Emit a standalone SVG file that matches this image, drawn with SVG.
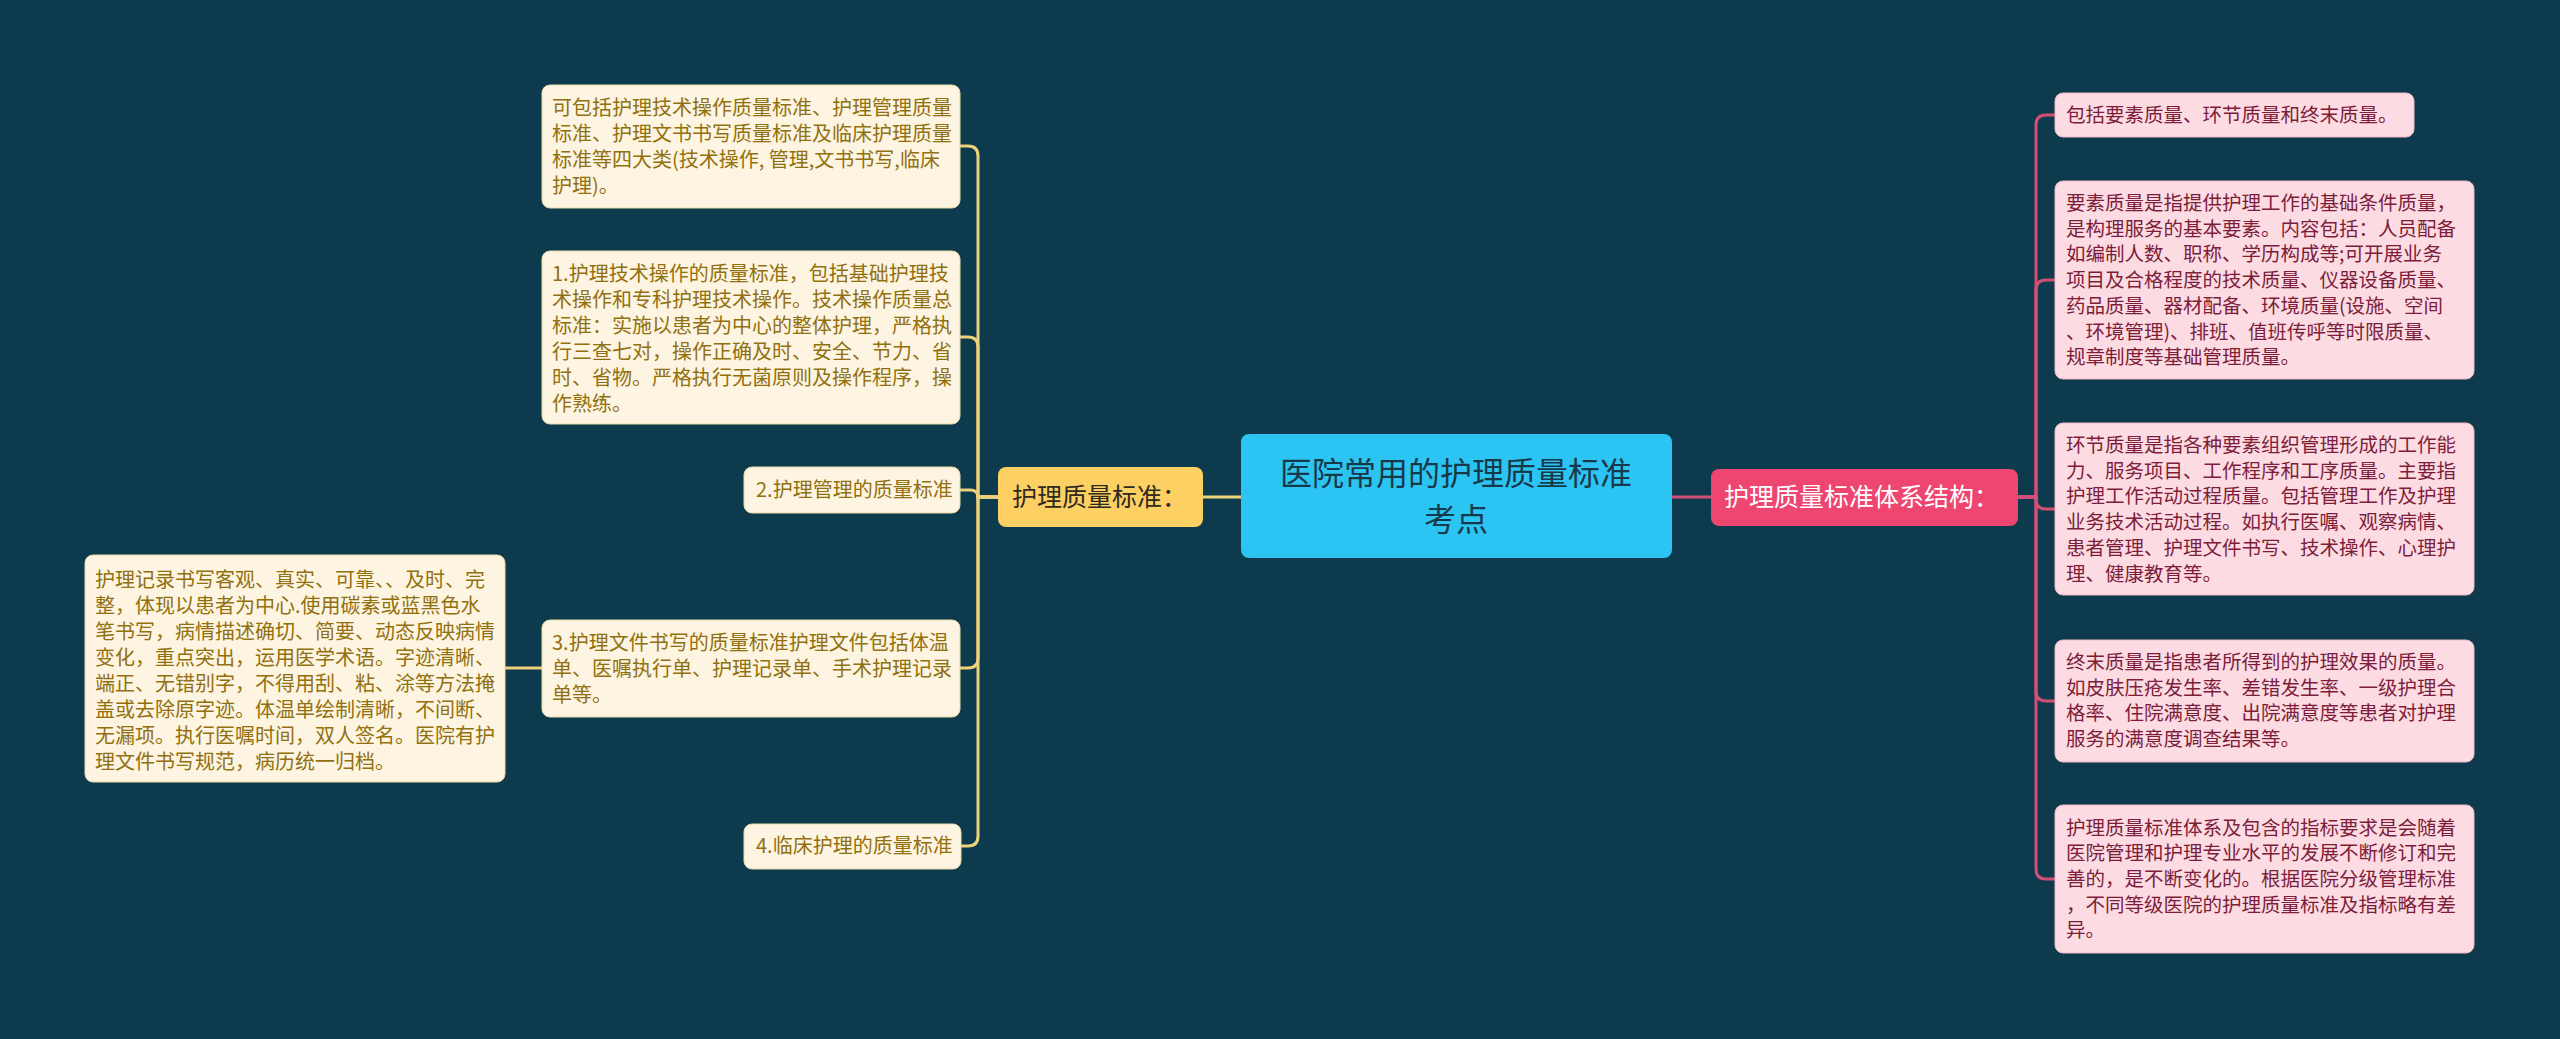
<svg xmlns="http://www.w3.org/2000/svg" width="2560" height="1039" viewBox="0 0 2560 1039">
<style>
text{font-family:"Noto Sans CJK SC","Noto Sans",sans-serif}
.lf{fill:#fdf5e1;stroke:#e9d9a8;stroke-width:1}
.lt{font-size:20px;fill:#92700f}
.rf{fill:#fcdbe3;stroke:#f0b7c5;stroke-width:1}
.rt{font-size:19.5px;fill:#7d1d3a}
.yl{fill:none;stroke:#ecd27a;stroke-width:3}
.pl{fill:none;stroke:#d34f78;stroke-width:3}
</style>
<rect width="2560" height="1039" fill="#0e3a4d"/>
<g id="connectors">
<path class="yl" d="M1241 497 H1203"/>
<path class="pl" d="M1672 497 H1711"/>
<path class="yl" d="M998 497 H978 V156 Q978 146 968 146 H960"/>
<path class="yl" d="M998 497 H978 V347 Q978 337 968 337 H960"/>
<path class="yl" d="M998 497 H978 Q978 490 970 490 H960"/>
<path class="yl" d="M998 497 H978 V658 Q978 668 968 668 H960"/>
<path class="yl" d="M998 497 H978 V836 Q978 846 968 846 H961"/>
<path class="yl" d="M542 668 H505"/>
<path class="pl" d="M2018 497 H2036 V125 Q2036 115 2046 115 H2055"/>
<path class="pl" d="M2018 497 H2036 V290 Q2036 280 2046 280 H2055"/>
<path class="pl" d="M2018 497 H2036 V499 Q2036 509 2046 509 H2055"/>
<path class="pl" d="M2018 497 H2036 V691 Q2036 701 2046 701 H2055"/>
<path class="pl" d="M2018 497 H2036 V869 Q2036 879 2046 879 H2055"/>
</g>
<g id="center">
<rect x="1241" y="434" width="431" height="124" rx="8" fill="#2cc4f3"/>
<text x="1456" y="485" font-size="32" fill="#173a4a" text-anchor="middle">医院常用的护理质量标准</text>
<text x="1456" y="531" font-size="32" fill="#173a4a" text-anchor="middle">考点</text>
</g>
<g id="left-main">
<rect x="998" y="467" width="205" height="60" rx="8" fill="#fdd064"/>
<text x="1012" y="506" font-size="25" fill="#2e2a1e">护理质量标准：</text>
</g>
<g id="right-main">
<rect x="1711" y="469" width="307" height="57" rx="8" fill="#ee4571"/>
<text x="1724" y="506" font-size="25" fill="#ffffff">护理质量标准体系结构：</text>
</g>
<g id="nodeA">
<rect class="lf" x="542" y="85" width="418" height="123" rx="8"/>
<text class="lt" x="552" y="115">可包括护理技术操作质量标准、护理管理质量</text>
<text class="lt" x="552" y="141">标准、护理文书书写质量标准及临床护理质量</text>
<text class="lt" x="552" y="167">标准等四大类(技术操作, 管理,文书书写,临床</text>
<text class="lt" x="552" y="193">护理)。</text>
</g>
<g id="nodeB">
<rect class="lf" x="542" y="251" width="418" height="173" rx="8"/>
<text class="lt" x="552" y="281">1.护理技术操作的质量标准，包括基础护理技</text>
<text class="lt" x="552" y="307">术操作和专科护理技术操作。技术操作质量总</text>
<text class="lt" x="552" y="333">标准：实施以患者为中心的整体护理，严格执</text>
<text class="lt" x="552" y="359">行三查七对，操作正确及时、安全、节力、省</text>
<text class="lt" x="552" y="385">时、省物。严格执行无菌原则及操作程序，操</text>
<text class="lt" x="552" y="411">作熟练。</text>
</g>
<g id="nodeC">
<rect class="lf" x="744" y="467" width="216" height="46" rx="8"/>
<text class="lt" x="756" y="497">2.护理管理的质量标准</text>
</g>
<g id="nodeD">
<rect class="lf" x="542" y="620" width="418" height="97" rx="8"/>
<text class="lt" x="552" y="650">3.护理文件书写的质量标准护理文件包括体温</text>
<text class="lt" x="552" y="676">单、医嘱执行单、护理记录单、手术护理记录</text>
<text class="lt" x="552" y="702">单等。</text>
</g>
<g id="nodeE">
<rect class="lf" x="85" y="555" width="420" height="227" rx="8"/>
<text class="lt" x="95" y="587">护理记录书写客观、真实、可靠、、及时、完</text>
<text class="lt" x="95" y="613">整，体现以患者为中心.使用碳素或蓝黑色水</text>
<text class="lt" x="95" y="639">笔书写，病情描述确切、简要、动态反映病情</text>
<text class="lt" x="95" y="665">变化，重点突出，运用医学术语。字迹清晰、</text>
<text class="lt" x="95" y="691">端正、无错别字，不得用刮、粘、涂等方法掩</text>
<text class="lt" x="95" y="717">盖或去除原字迹。体温单绘制清晰，不间断、</text>
<text class="lt" x="95" y="743">无漏项。执行医嘱时间，双人签名。医院有护</text>
<text class="lt" x="95" y="769">理文件书写规范，病历统一归档。</text>
</g>
<g id="nodeF">
<rect class="lf" x="744" y="824" width="217" height="45" rx="8"/>
<text class="lt" x="756" y="853">4.临床护理的质量标准</text>
</g>
<g id="nodeR1">
<rect class="rf" x="2055" y="93" width="359" height="44" rx="8"/>
<text class="rt" x="2066" y="122">包括要素质量、环节质量和终末质量。</text>
</g>
<g id="nodeR2">
<rect class="rf" x="2055" y="181" width="419" height="198" rx="8"/>
<text class="rt" x="2066" y="210">要素质量是指提供护理工作的基础条件质量，</text>
<text class="rt" x="2066" y="235.7">是构理服务的基本要素。内容包括：人员配备</text>
<text class="rt" x="2066" y="261.4">如编制人数、职称、学历构成等;可开展业务</text>
<text class="rt" x="2066" y="287.1">项目及合格程度的技术质量、仪器设备质量、</text>
<text class="rt" x="2066" y="312.8">药品质量、器材配备、环境质量(设施、空间</text>
<text class="rt" x="2066" y="338.5">、环境管理)、排班、值班传呼等时限质量、</text>
<text class="rt" x="2066" y="364.2">规章制度等基础管理质量。</text>
</g>
<g id="nodeR3">
<rect class="rf" x="2055" y="423" width="419" height="172" rx="8"/>
<text class="rt" x="2066" y="452">环节质量是指各种要素组织管理形成的工作能</text>
<text class="rt" x="2066" y="477.7">力、服务项目、工作程序和工序质量。主要指</text>
<text class="rt" x="2066" y="503.4">护理工作活动过程质量。包括管理工作及护理</text>
<text class="rt" x="2066" y="529.1">业务技术活动过程。如执行医嘱、观察病情、</text>
<text class="rt" x="2066" y="554.8">患者管理、护理文件书写、技术操作、心理护</text>
<text class="rt" x="2066" y="580.5">理、健康教育等。</text>
</g>
<g id="nodeR4">
<rect class="rf" x="2055" y="640" width="419" height="122" rx="8"/>
<text class="rt" x="2066" y="669">终末质量是指患者所得到的护理效果的质量。</text>
<text class="rt" x="2066" y="694.7">如皮肤压疮发生率、差错发生率、一级护理合</text>
<text class="rt" x="2066" y="720.4">格率、住院满意度、出院满意度等患者对护理</text>
<text class="rt" x="2066" y="746.1">服务的满意度调查结果等。</text>
</g>
<g id="nodeR5">
<rect class="rf" x="2055" y="805" width="419" height="148" rx="8"/>
<text class="rt" x="2066" y="834.5">护理质量标准体系及包含的指标要求是会随着</text>
<text class="rt" x="2066" y="860.2">医院管理和护理专业水平的发展不断修订和完</text>
<text class="rt" x="2066" y="885.9">善的，是不断变化的。根据医院分级管理标准</text>
<text class="rt" x="2066" y="911.6">，不同等级医院的护理质量标准及指标略有差</text>
<text class="rt" x="2066" y="937.3">异。</text>
</g>
</svg>
